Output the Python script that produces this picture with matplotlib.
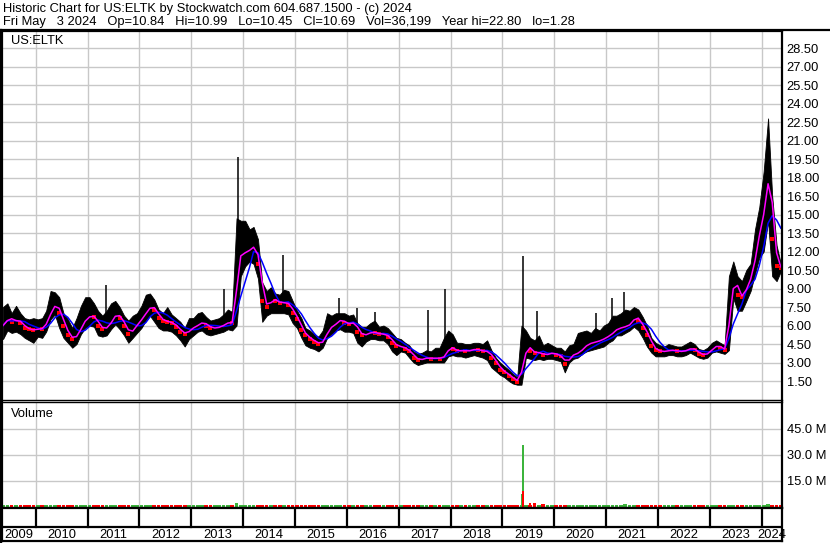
import matplotlib
matplotlib.use("Agg")
import matplotlib.pyplot as plt
import matplotlib.dates as mdates
from matplotlib.lines import Line2D
import numpy as np
import pandas as pd

plt.rcParams["font.family"] = ["Liberation Sans", "DejaVu Sans"]

# monthly bars, May 2009 .. May 2024
month_start = "2009-05-01"
month_end = "2024-05-01"

close = [
    6.0, 6.8, 6.3, 6.5, 6.2, 5.8, 5.7, 5.6,                          # 2009
    5.8, 5.7, 6.5, 7.3, 7.8, 7.0, 6.0, 5.2, 4.9, 5.3, 6.1, 6.6,      # 2010
    6.8, 6.7, 6.0, 5.7, 5.9, 6.5, 7.0, 6.6, 6.0, 5.3, 5.8, 6.2,      # 2011
    6.7, 7.2, 7.6, 7.3, 6.6, 6.4, 6.3, 6.2, 5.9, 5.5, 5.3, 5.7,      # 2012
    5.9, 6.1, 6.3, 6.0, 5.8, 5.8, 5.9, 6.1, 6.3, 6.2, 11.5, 11.8,    # 2013
    12.0, 12.2, 12.5, 11.0, 8.0, 7.5, 8.2, 8.0, 7.8, 7.9, 7.7, 7.0,  # 2014
    6.5, 5.6, 5.2, 4.9, 4.7, 4.5, 4.8, 5.8, 5.9, 6.3, 6.5, 6.2,      # 2015
    6.1, 6.3, 5.5, 5.2, 5.3, 5.5, 5.4, 5.3, 5.3, 5.1, 4.6, 4.3,      # 2016
    4.3, 4.1, 3.9, 3.4, 3.2, 3.3, 3.4, 3.3, 3.4, 3.3, 3.6, 4.3,      # 2017
    4.1, 3.9, 4.0, 3.9, 4.0, 4.1, 4.0, 3.9, 3.9, 3.4, 2.95, 2.4,     # 2018
    2.2, 1.9, 1.7, 1.4, 3.0, 4.5, 3.9, 3.8, 3.8, 3.6, 3.7, 3.8,      # 2019
    3.6, 3.5, 2.9, 3.5, 3.7, 3.8, 4.2, 4.5, 4.6, 4.7, 4.8, 5.0,      # 2020
    5.2, 5.5, 5.8, 5.8, 6.0, 6.1, 6.8, 6.4, 5.8, 5.2, 4.3, 4.0,      # 2021
    3.9, 3.9, 4.0, 4.0, 3.9, 3.9, 4.0, 4.2, 4.0, 3.7, 3.6, 3.8,      # 2022
    4.2, 4.4, 4.2, 4.0, 8.0, 10.0, 8.5, 8.3, 9.5, 10.0, 12.5, 14.0,  # 2023
    16.0, 19.0, 13.0, 10.8, 10.7,                                    # 2024
]
high = [
    7.5, 7.8, 7.0, 7.6, 7.0, 6.6, 6.5, 6.6,
    6.5, 6.6, 7.2, 8.8, 8.7, 8.3, 7.0, 6.5, 5.8, 6.6, 7.6, 8.3,
    8.3, 7.8, 7.2, 6.8, 7.2, 7.8, 8.0, 7.5, 6.8, 6.4, 6.8, 7.0,
    7.6, 8.5, 8.6, 8.1, 7.3, 7.0, 7.5, 6.9, 6.6, 6.3, 5.8, 6.6,
    6.6, 7.0, 7.1, 6.7, 6.4, 6.5, 6.6, 6.9, 7.3, 7.1, 14.7, 14.5,
    14.5, 13.8, 14.0, 13.0, 9.5, 8.8, 9.1, 8.6, 8.5, 8.9, 8.8, 8.0,
    7.2, 6.6, 5.8, 5.6, 5.3, 5.1, 5.6, 7.0, 6.8, 7.0, 7.0, 7.0,
    6.8, 6.9, 6.2, 5.9, 5.9, 6.2, 6.4, 5.9, 6.0, 5.8, 5.4, 5.0,
    4.9, 4.6, 4.4, 3.9, 3.7, 3.8, 4.0, 3.9, 4.2, 4.2, 5.0, 5.6,
    5.3, 4.6, 4.6, 4.5, 4.5, 4.6, 4.6, 4.5, 4.8, 4.0, 3.4, 3.0,
    2.7, 2.4, 2.1, 1.8, 6.0, 5.6, 5.0, 4.8, 5.2, 4.4, 4.6, 4.4,
    4.2, 4.2, 3.9, 4.4, 4.5, 5.4, 5.5, 5.6, 5.4, 5.8, 5.6, 6.0,
    6.2, 6.8, 6.8, 7.0, 7.3, 7.2, 7.5, 7.3, 6.7, 6.0, 5.0, 4.6,
    4.4, 4.3, 4.5, 4.4, 4.3, 4.3, 4.5, 4.7, 4.5, 4.1, 4.0, 4.2,
    4.6, 4.8, 4.6, 4.4, 10.0, 11.2, 10.0, 9.6, 10.5, 11.0, 13.8, 15.6,
    18.5, 22.8, 16.5, 12.5, 11.0,
]
low = [
    4.9, 5.6, 5.4, 5.5, 5.3, 5.0, 4.8, 4.6,
    5.1, 5.0, 5.5, 6.5, 6.9, 5.8, 5.0, 4.6, 4.2, 4.5, 5.3, 5.8,
    6.0, 5.9, 5.2, 5.1, 5.2, 5.7, 6.1, 5.7, 5.2, 4.6, 5.0, 5.4,
    5.8, 6.4, 6.8, 6.3, 5.8, 5.6, 5.6, 5.5, 5.2, 4.8, 4.3, 4.9,
    5.2, 5.5, 5.6, 5.3, 5.2, 5.3, 5.4, 5.5, 5.7, 5.6, 6.0, 10.0,
    10.8, 11.2, 11.0, 9.8, 6.3, 6.8, 7.0, 7.0, 7.0, 7.0, 6.9, 6.2,
    5.8, 5.0, 4.4, 4.2, 4.1, 3.9, 4.2, 5.0, 5.3, 5.6, 5.7, 5.5,
    5.5, 5.4, 4.6, 4.3, 4.7, 4.9, 4.9, 4.8, 4.8, 4.5, 3.9, 3.6,
    3.9, 3.8, 3.4, 3.0, 2.8, 2.9, 3.0, 3.0, 3.0, 3.0, 3.0, 3.5,
    3.6, 3.5, 3.5, 3.4, 3.5, 3.6, 3.5, 3.4, 3.2, 2.6, 2.3, 2.0,
    1.8, 1.5, 1.3, 1.2, 1.2, 3.4, 3.3, 3.2, 3.3, 3.2, 3.3, 3.3,
    3.2, 3.1, 2.2, 3.0, 3.3, 3.4, 3.7, 3.9, 4.0, 4.1, 4.2, 4.3,
    4.6, 4.8, 5.2, 5.2, 5.4, 5.6, 5.9, 5.6, 5.0, 4.3, 3.8, 3.5,
    3.5, 3.5, 3.6, 3.6, 3.5, 3.5, 3.6, 3.8, 3.6, 3.4, 3.3, 3.4,
    3.8, 3.9, 3.8, 3.7, 4.0, 8.2, 7.2, 7.2, 8.0, 8.8, 10.2, 11.5,
    12.0, 14.5, 10.0, 9.6, 10.4,
]
# monthly volume, millions
volume = [
    1.1, 1.0, 0.9, 1.0, 0.9, 1.0, 0.9, 0.9,
    1.0, 0.9, 1.1, 1.2, 1.0, 1.0, 0.9, 1.0, 0.9, 1.0, 1.1, 1.0,
    1.1, 1.0, 0.9, 0.9, 1.0, 1.0, 1.0, 1.0, 0.9, 1.0, 0.9, 1.0,
    1.0, 1.1, 1.0, 1.0, 0.9, 0.9, 1.0, 0.9, 0.9, 1.0, 0.9, 1.0,
    0.9, 0.9, 1.0, 0.9, 0.9, 0.9, 0.9, 1.0, 1.0, 0.9, 2.0, 1.3,
    1.2, 1.1, 1.1, 1.0, 1.1, 1.0, 1.0, 0.9, 0.9, 1.0, 1.0, 1.0,
    1.0, 1.0, 0.9, 0.9, 0.9, 0.9, 0.9, 1.0, 1.0, 1.0, 1.1, 1.0,
    1.0, 1.0, 1.0, 0.9, 0.9, 0.9, 1.0, 0.9, 0.9, 0.9, 0.9, 0.9,
    0.9, 0.9, 0.9, 0.9, 0.9, 0.9, 1.0, 0.9, 0.9, 0.9, 1.0, 1.1,
    1.0, 0.9, 0.9, 0.9, 0.9, 0.9, 0.9, 0.9, 0.9, 0.9, 1.0, 1.0,
    1.0, 0.9, 0.9, 1.0, 1.2, 1.1, 1.0, 2.2, 1.2, 1.5, 1.0, 0.9,
    1.0, 0.9, 1.2, 1.0, 0.9, 1.0, 0.9, 1.0, 0.9, 1.1, 1.0, 1.0,
    1.0, 1.1, 1.0, 1.0, 1.6, 1.0, 1.0, 1.0, 0.9, 0.9, 0.9, 0.9,
    0.9, 0.9, 0.9, 0.9, 0.9, 0.9, 0.9, 0.9, 0.9, 0.9, 0.9, 0.9,
    0.9, 0.9, 0.9, 0.9, 1.4, 1.1, 1.0, 1.0, 1.0, 1.0, 1.1, 1.1,
    1.4, 1.5, 1.2, 1.0, 0.9,
]

# single-day needles on the price chart
spike_dates = ["2011-05-10", "2013-08-18", "2013-11-24", "2014-10-06", "2015-11-10",
               "2016-03-10", "2016-07-19", "2017-07-23", "2017-11-20", "2019-05-28",
               "2019-08-30", "2020-10-19", "2021-02-12", "2021-05-05"]
spike_highs = [9.3, 9.0, 19.7, 11.7, 8.2, 7.4, 7.1, 7.3, 9.0, 11.6, 7.2, 7.0, 8.2, 8.7]

# single-day volume bars around the May 2019 spike
vol_spike_dates = ["2019-05-20", "2019-05-29", "2019-05-29", "2019-07-15"]
vol_spike_values = [7.3, 35.9, 9.2, 2.5]
vol_spike_up = [True, True, False, False]

price_ticks = [1.5 * i for i in range(1, 20)]
vol_ticks = [15, 30, 45]
years = list(range(2009, 2025))

header1 = "Historic Chart for US:ELTK by Stockwatch.com 604.687.1500 - (c) 2024"
header2 = ("Fri May   3 2024   Op=10.84   Hi=10.99   Lo=10.45   Cl=10.69   "
           "Vol=36,199   Year hi=22.80   lo=1.28")

GREEN = "#3cb43c"
GRID = "#c8c8c8"
FS = 9.3
W, H = 830, 543


def fbox(x0, y0, x1, y1):
    # pixel box (top-left origin) -> figure fraction rect
    return [x0 / W, 1 - y1 / H, (x1 - x0) / W, (y1 - y0) / H]


dates = pd.date_range(month_start, month_end, freq="MS") + pd.Timedelta(days=14)
s_close = pd.Series(close, index=dates)
ma_fast = s_close.rolling(2, min_periods=1).mean()
ma_slow = s_close.rolling(5, min_periods=1).mean()
up = np.r_[True, np.diff(close) >= 0]

xmin = pd.Timestamp("2009-05-08")
xmax = pd.Timestamp("2024-05-21")
year_starts = [pd.Timestamp(f"{y}-01-01") for y in years[1:]]

fig = plt.figure(figsize=(W / 100, H / 100), dpi=100)
ax_p = fig.add_axes(fbox(2, 31, 781.7, 400))
ax_v = fig.add_axes(fbox(2, 402, 781.7, 507.5))
ax_x = fig.add_axes(fbox(2, 508, 781.7, 541))

for ax in (ax_p, ax_v, ax_x):
    ax.set_xlim(xmin, xmax)
    ax.set_xticks(year_starts)
    ax.tick_params(length=0, labelbottom=False)
    for sp in ax.spines.values():
        sp.set_color("black")
        sp.set_linewidth(1.6)

# price panel
ax_p.set_ylim(-0.04, 29.89)
ax_p.set_yticks(price_ticks)
ax_p.set_yticklabels([f"{v:.2f}" for v in price_ticks], fontsize=FS)
ax_p.yaxis.tick_right()
ax_p.tick_params(axis="y", length=0, pad=3.5)
ax_p.grid(color=GRID, lw=1)
ax_p.set_axisbelow(True)
ax_p.spines["bottom"].set_linewidth(1)

ax_p.fill_between(dates, low, high, color="black", lw=0.6, edgecolor="black")
spk = pd.to_datetime(spike_dates)
spike_base = np.interp(mdates.date2num(spk), mdates.date2num(dates), close)
ax_p.vlines(spk, spike_base, spike_highs, color="black", lw=1.1)
ax_p.plot(dates[~up], np.array(close)[~up], "s", color="red", ms=2.2, mew=0)
ax_p.plot(dates, ma_slow, color="#0000ff", lw=1.1)
ax_p.plot(dates, ma_fast, color="#ff00ff", lw=1.1)
ax_p.text(9.3 / 779.7, 1 - 10 / 369, "US:ELTK", transform=ax_p.transAxes,
          fontsize=FS, va="center", ha="left")

# volume panel
ax_v.set_ylim(-0.3, 60.35)
ax_v.set_yticks(vol_ticks)
ax_v.set_yticklabels([f"{v:.1f} M" for v in vol_ticks], fontsize=FS)
ax_v.yaxis.tick_right()
ax_v.tick_params(axis="y", length=0, pad=3.5)
ax_v.grid(color=GRID, lw=1)
ax_v.set_axisbelow(True)
ax_v.spines["top"].set_linewidth(1)
ax_v.bar(dates, volume, width=26, color=[GREEN if u else "red" for u in up], lw=0)
ax_v.bar(pd.to_datetime(vol_spike_dates), vol_spike_values, width=14,
         color=[GREEN if u else "red" for u in vol_spike_up], lw=0)
ax_v.text(9.3 / 779.7, 1 - 12 / 105, "Volume", transform=ax_v.transAxes,
          fontsize=FS, va="center", ha="left")

# date strip
ax_x.set_ylim(0, 1)
ax_x.set_yticks([])
ax_x.axhline(14 / 33, color="black", lw=1.6)
for ys in year_starts:
    ax_x.axvline(ys, ymin=14 / 33, ymax=1, color="black", lw=1.6)
for y in years:
    a = max(pd.Timestamp(f"{y}-01-01"), xmin)
    b = min(pd.Timestamp(f"{y + 1}-01-01"), xmax)
    ax_x.text(a + (b - a) / 2, 6.5 / 33, str(y), fontsize=FS, ha="center",
              va="center", clip_on=False)

# header
fig.add_artist(Line2D([0, 1], [1 - 30.3 / H] * 2, color="black", lw=1.6))
fig.add_artist(Line2D([1 / W] * 2, [0, 1 - 30.3 / H], color="black", lw=1.6))
fig.text(3 / W, 1 - 9 / H, header1, fontsize=FS, va="center", ha="left")
fig.text(3 / W, 1 - 22.5 / H, header2, fontsize=FS, va="center", ha="left")

fig.savefig("out.png", dpi=100)
